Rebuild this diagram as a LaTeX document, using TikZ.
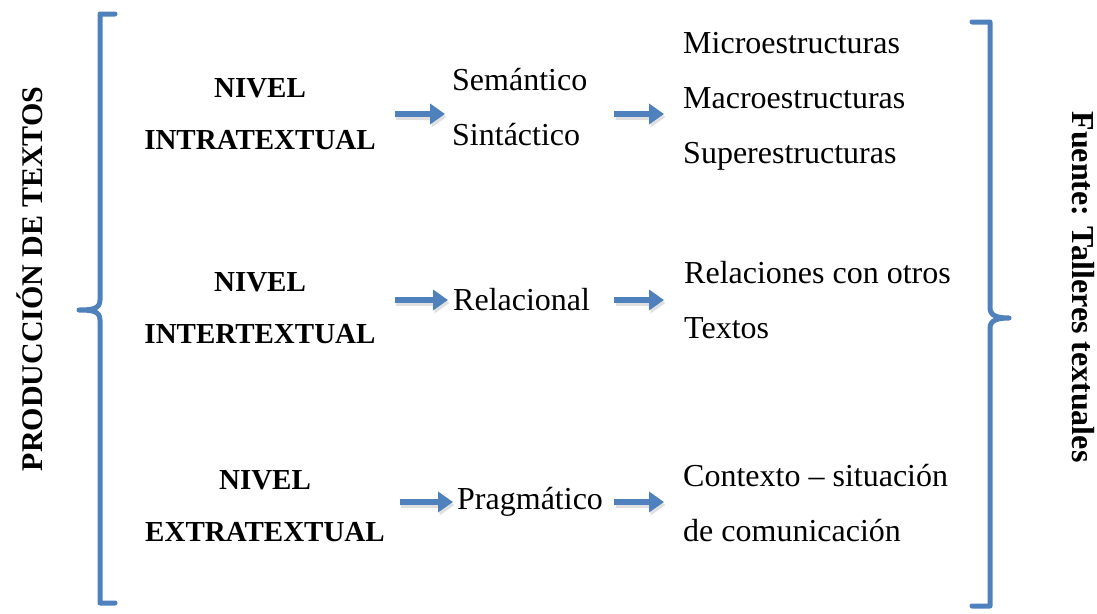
\documentclass[tikz,border=0pt]{standalone}
\usepackage{fontspec}
\setmainfont{Liberation Serif}
\usetikzlibrary{arrows.meta,calc}
\definecolor{azul}{HTML}{4F81BD}

\begin{document}
\begin{tikzpicture}[x=1pt,y=-1pt,
    nivel/.style={inner sep=0pt,align=center,font=\fontsize{29}{52}\selectfont\bfseries},
    tipo/.style={inner sep=0pt,align=left,anchor=west,font=\fontsize{32}{55}\selectfont},
    flecha/.style={draw=azul,line width=5.5pt,-{Triangle[length=15pt,width=20pt]},
      preaction={draw=black!12,line width=5.5pt,transform canvas={shift={(1.5pt,-3pt)}}}},
    llave/.style={draw=azul,line width=5pt,line cap=round,line join=round}]
    \useasboundingbox (0,0) rectangle (1097,613);

    \node[rotate=90,font=\fontsize{30}{36}\selectfont\bfseries] (prod) at (30,279) {PRODUCCIÓN DE TEXTOS};
    \node[rotate=-90,font=\fontsize{32}{38}\selectfont\bfseries] (fuente) at (1083,287) {Fuente: Talleres textuales};

    \draw[llave] (115,14) -| (100,300) .. controls (100,309) and (92,310) .. (79,310)
                 .. controls (92,310) and (100,311) .. (100,320) |- (115,603);
    \draw[llave] (972,22) -| (990,308) .. controls (990,316) and (998,318) .. (1009,318)
                 .. controls (998,318) and (990,320) .. (990,328) |- (972,606);

    \node[nivel] (lvlA) at (260,114) {NIVEL\\INTRATEXTUAL};
    \node[nivel] (lvlB) at (260,308) {NIVEL\\INTERTEXTUAL};
    \node[nivel] (lvlC) at (265,506) {NIVEL\\EXTRATEXTUAL};

    \node[tipo] (subA) at (452,107) {Semántico\\Sintáctico};
    \node[tipo] (subB) at (453,300) {Relacional};
    \node[tipo] (subC) at (457,502) {Pragmático};

    \node[tipo] (detA) at (683,101) {Microestructuras\\Macroestructuras\\Superestructuras};
    \node[tipo] (detB) at (684,300) {Relaciones con otros\\Textos};
    \node[tipo] (detC) at (683,503) {Contexto – situación\\de comunicación};

    \draw[flecha,shorten <=19pt,shorten >=7pt] (lvlA.east) -- (lvlA.east -| subA.west);
    \draw[flecha,shorten <=27pt,shorten >=19pt] (subA.east |- lvlA.east) -- (detA.west |- lvlA.east);
    \draw[flecha,shorten <=19pt,shorten >=5pt] (lvlB.east |- subB.west) -- (subB.west);
    \draw[flecha,shorten <=24pt,shorten >=20pt] (subB.east) -- (detB.west |- subB.east);
    \draw[flecha,shorten <=15pt,shorten >=4pt] (lvlC.east |- subC.west) -- (subC.west);
    \draw[flecha,shorten <=11pt,shorten >=19pt] (subC.east) -- (detC.west |- subC.east);
\end{tikzpicture}
\end{document}
